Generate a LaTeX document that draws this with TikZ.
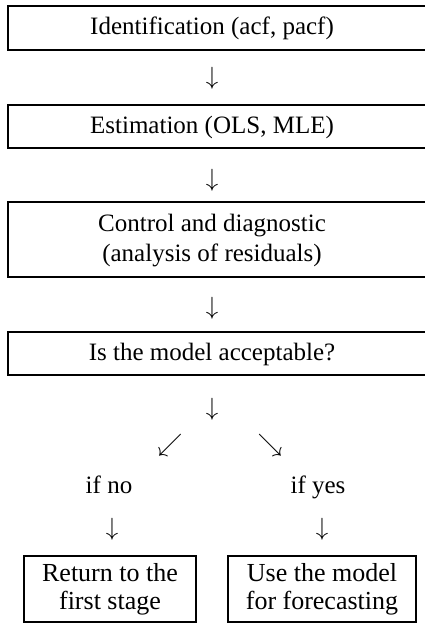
\documentclass[tikz,border=0pt]{standalone}
\usepackage{fontspec}
\setmainfont{Liberation Serif}
\begin{document}
\begin{tikzpicture}[x=1pt,y=-1pt,
  boxline/.style={line width=1.5pt},
  txt/.style={inner sep=0pt,align=center,font=\fontsize{25}{30}\selectfont},
  arr/.style={inner sep=0pt,font=\fontsize{24}{24}\selectfont},
  darr/.style={inner sep=0pt,font=\fontsize{26}{26}\selectfont},
  endbox/.style={draw,line width=1.5pt,inner sep=0pt,minimum height=66pt,align=center,font=\fontsize{26}{28}\selectfont}]
\useasboundingbox (0,0) rectangle (424,623);
% stage boxes (right edge outside the picture)
\draw[boxline] (8,6) rectangle (440,50);
\node[txt] (t1) at (212,28) {Identification (acf, pacf)};
\node[arr] (a1) at (212,78) {$\downarrow$};
\draw[boxline] (8,105) rectangle (440,148);
\node[txt] (t2) at (212,127) {Estimation (OLS, MLE)};
\node[arr] (a2) at (212,180) {$\downarrow$};
\draw[boxline] (8,202) rectangle (440,277);
\node[txt] (t3) at (212,241) {Control and diagnostic\\(analysis of residuals)};
\node[arr] (a3) at (212,308) {$\downarrow$};
\draw[boxline] (8,332) rectangle (440,375);
\node[txt] (t4) at (212,354) {Is the model acceptable?};
\node[arr] (a4) at (212,409) {$\downarrow$};
\node[darr] (a5) at (170,445) {$\swarrow$};
\node[darr] (a6) at (270,445) {$\searrow$};
\node[txt,anchor=base] (no) at (109,493) {if no};
\node[txt,anchor=base] (yes) at (318,493) {if yes};
\node[arr] (a7) at (112,529) {$\downarrow$};
\node[arr] (a8) at (322,529) {$\downarrow$};
\node[endbox,minimum width=172pt] (r1) at (110,589) {Return to the\\first stage};
\node[endbox,minimum width=188pt] (r2) at (322,589) {Use the model\\for forecasting};
\end{tikzpicture}
\end{document}
